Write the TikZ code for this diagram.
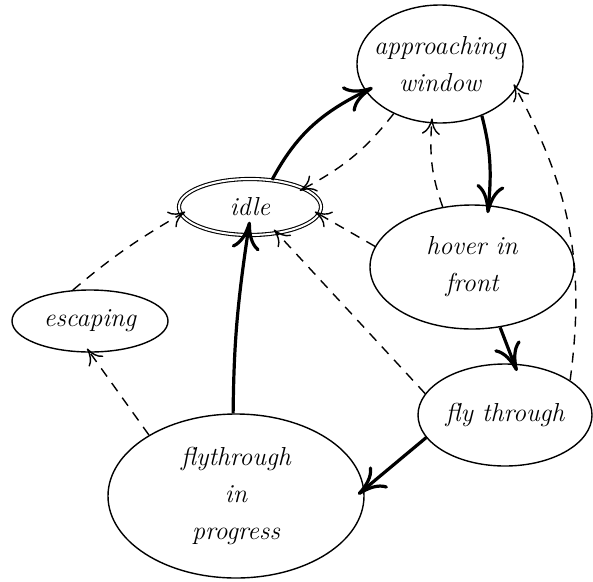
\documentclass[tikz,border=0pt]{standalone}
\usetikzlibrary{shapes.geometric,arrows.meta}
\begin{document}
\begin{tikzpicture}[x=1pt,y=-1pt,
  st/.style={draw,ellipse,line width=1.4pt,inner xsep=-30pt,inner ysep=-5pt,align=center,
    font=\fontsize{26}{37}\selectfont\itshape},
  dbl/.style={st,double,double distance=2pt,line width=1.1pt},
  solidedge/.style={line width=3.2pt,shorten >=-8pt,-{To[length=28pt,width=28pt]}},
  dashedge/.style={line width=1.4pt,shorten >=-5pt,dash pattern=on 10pt off 8pt,-{To[length=16pt,width=18pt]}}]
\useasboundingbox (0,0) rectangle (593,581);
\node[st,minimum width=166pt,minimum height=118pt] (aw) at (440,64) {approaching\\window};
\node[dbl,minimum width=142pt,minimum height=56pt] (idle) at (250,207) {idle};
\node[st,minimum width=204pt,minimum height=124pt] (hf) at (472,267) {hover in\\front};
\node[st,minimum width=156pt,minimum height=62pt] (esc) at (90,321) {escaping};
\node[st,minimum width=174pt,minimum height=102pt] (ft) at (505,415) {fly through};
\node[st,minimum width=256pt,minimum height=164pt] (fp) at (236,496) {flythrough\\in\\progress};
\draw[solidedge] (idle.51) to[bend left=18] (aw.200);
\draw[dashedge] (aw.227) to[bend left=12] (idle.19);
\draw[solidedge] (aw.309) to[bend left=10] (hf.75);
\draw[dashedge] (hf.116) to[bend left=12] (aw.262);
\draw[dashedge] (ft.28) to[bend right=18] (aw.342);
\draw[dashedge] (hf.168) -- (idle.354);
\draw[dashedge] (ft.165) -- (idle.316);
\draw[solidedge] (hf.295) -- (ft.80);
\draw[solidedge] (ft.196) -- (fp.3);
\draw[solidedge,shorten >=-14pt] (fp.92) to[bend left=4] (idle.265);
\draw[dashedge] (fp.145) -- (esc.270);
\draw[dashedge] (esc.119) to[bend left=5] (idle.186);
\end{tikzpicture}
\end{document}
